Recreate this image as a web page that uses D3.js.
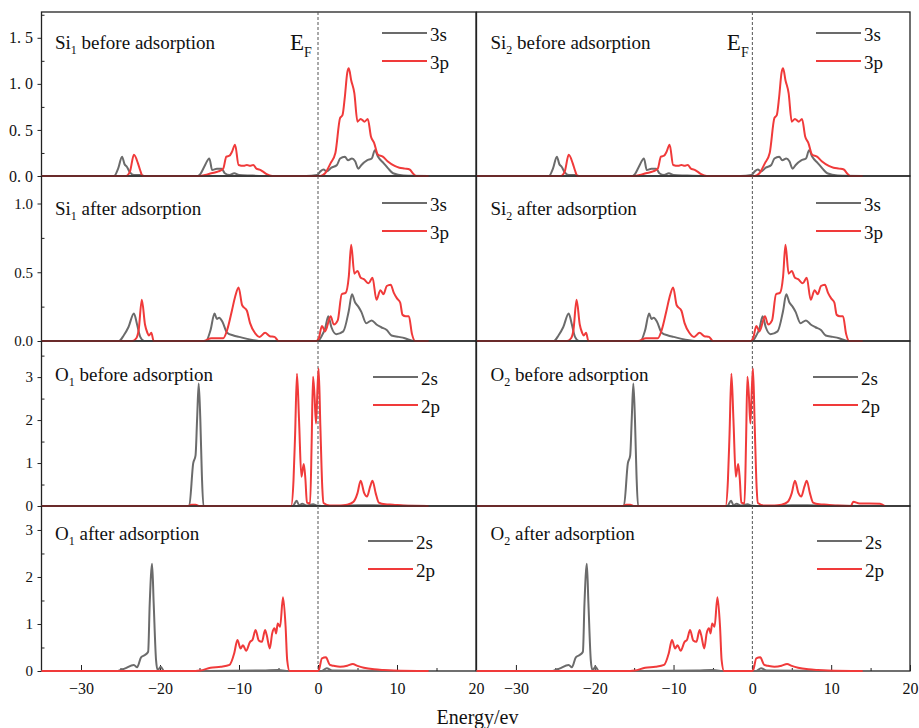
<!DOCTYPE html>
<html>
<head>
<meta charset="utf-8">
<script src="https://cdn.jsdelivr.net/npm/d3@7"></script>
<style>
    body { margin: 0; background: #fff; }
    text { font-family: "Liberation Serif", "Times New Roman", serif; fill: #111; }
</style>
</head>
<body>
<svg id="chart" width="919" height="728"></svg>
<script>
// PDOS curves, [energy (eV), states] pairs
const si1Before3s = [[-35,0],[-25.8,0],[-25.3,0.08],[-24.8,0.21],[-24.5,0.13],[-24.2,0.10],[-23.8,0.04],[-23.3,0.01],[-22.5,0.01],[-22,0],
    [-15.2,0],[-14.9,0.02],[-14.4,0.10],[-13.75,0.19],[-13.4,0.065],[-12.8,0.08],[-12.2,0.08],[-11.8,0.03],[-11.2,0.01],[-10.6,0.03],[-10,0.01],[-8.5,0.005],[-6,0],
    [-1.5,0],[-0.13,0.01],[0.3,0.05],[0.7,0.07],[1.1,0.05],[1.7,0.09],[2.4,0.12],[2.8,0.19],[3.4,0.21],[3.8,0.17],[4.3,0.19],[4.7,0.16],[5.1,0.08],[5.5,0.12],
    [6.2,0.17],[6.8,0.19],[7.2,0.28],[7.6,0.21],[8.3,0.14],[8.9,0.08],[9.5,0.03],[10.8,0.005],[14,0]];
const si1Before3p = [[-35,0],[-24.3,0],[-23.8,0.05],[-23.3,0.23],[-22.8,0.14],[-22.5,0.06],[-22.2,0],
    [-15,0],[-14.3,0.01],[-13.5,0.03],[-12.6,0.05],[-12,0.08],[-11.6,0.21],[-11.2,0.22],[-10.9,0.26],[-10.5,0.34],[-10.05,0.12],[-9.4,0.11],[-9.0,0.12],
    [-8.6,0.11],[-8.2,0.12],[-7.8,0.08],[-7.4,0.07],[-7.0,0.05],[-6.5,0.02],[-5.8,0],
    [0.3,0],[0.9,0.03],[1.6,0.14],[2.2,0.25],[2.8,0.63],[3.1,0.66],[3.4,0.86],[3.7,1.12],[3.9,1.17],[4.2,1.04],[4.6,0.90],[5.0,0.59],[5.4,0.62],[5.9,0.59],
    [6.3,0.62],[6.7,0.43],[7.1,0.36],[7.6,0.23],[8.2,0.21],[8.8,0.16],[9.7,0.11],[10.3,0.09],[11.0,0.08],[11.6,0.07],[12.0,0.03],[12.4,0],[14,0]];

const si1After3s = [[-35,0],[-25.2,0],[-24.6,0.04],[-24,0.10],[-23.3,0.20],[-22.9,0.12],[-22.5,0.03],[-22,0],
    [-14.2,0],[-13.6,0.08],[-13.1,0.20],[-12.8,0.16],[-12.5,0.17],[-12.1,0.14],[-11.5,0.06],[-10.7,0.04],[-10,0.03],[-8.5,0.01],[-7,0],
    [0,0],[0.5,0.04],[0.9,0.09],[1.3,0.18],[1.7,0.10],[2.3,0.05],[3.2,0.07],[3.9,0.22],[4.3,0.34],[4.7,0.28],[5.1,0.25],[5.5,0.21],[6.1,0.13],[6.8,0.15],
    [7.4,0.12],[8.0,0.10],[8.7,0.08],[9.3,0.04],[10.2,0.03],[11,0.02],[12.1,0],[14,0]];
const si1After3p = [[-35,0],[-23.5,0],[-23,0.02],[-22.7,0.08],[-22.3,0.30],[-21.9,0.12],[-21.6,0.06],[-21.4,0.04],[-21.1,0.06],[-20.8,0],
    [-14.5,0],[-13.5,0.02],[-12,0.02],[-11.5,0.08],[-10.9,0.22],[-10.5,0.32],[-10.05,0.39],[-9.6,0.26],[-9.0,0.22],[-8.6,0.13],[-8.0,0.06],[-7.4,0.03],
    [-6.7,0.06],[-6.1,0.035],[-5.5,0.03],[-5.0,0],
    [-0.2,0],[0.1,0.02],[0.5,0.11],[0.9,0.07],[1.6,0.18],[2.0,0.12],[2.5,0.15],[3.0,0.34],[3.5,0.35],[3.9,0.47],[4.2,0.70],[4.6,0.49],[5.0,0.51],[5.4,0.46],
    [5.8,0.45],[6.4,0.42],[6.9,0.46],[7.4,0.30],[7.9,0.37],[8.3,0.34],[8.7,0.40],[9.2,0.41],[9.6,0.35],[10.0,0.31],[10.4,0.28],[10.7,0.19],[11.1,0.18],
    [11.5,0.18],[11.9,0.05],[12.3,0],[14,0]];

const o1Before2s = [[-35,0],[-16.3,0],[-15.8,0.99],[-15.5,1.18],[-15.3,2.04],[-15.1,2.85],[-14.9,2.04],[-14.7,0.72],[-14.5,0],
    [-3.2,0],[-2.7,0.12],[-2.4,0.02],[-2.0,0.05],[-1.5,0.01],[-0.6,0.04],[-0.2,0.01],[0.5,0],[3,0],[5,0.02],[7,0.02],[9,0.01],[14,0]];
const o1Before2p = [[-35,0],[-16.5,0],[-16.0,0.03],[-15.5,0.03],[-15,0],
    [-3.4,0],[-3.1,0.6],[-2.9,1.65],[-2.66,3.08],[-2.4,2.0],[-2.1,0.68],[-1.8,0.98],[-1.6,0.64],[-1.4,0.08],[-1.0,0.06],[-0.8,1.5],[-0.63,3.01],
    [-0.45,2.6],[-0.25,1.92],[-0.05,2.8],[0.08,3.2],[0.3,1.85],[0.55,0.4],[0.7,0.07],[1.5,0.01],[2.8,0.01],[3.7,0.03],[4.5,0.10],[5.0,0.30],[5.4,0.59],
    [5.85,0.30],[6.2,0.22],[6.6,0.45],[6.9,0.59],[7.3,0.30],[7.7,0.08],[8.5,0.04],[9.5,0.03],[10.8,0.01],[14,0]];
const o2Before2p = [[-35,0],[-16.5,0],[-16.0,0.03],[-15.5,0.03],[-15,0],
    [-3.4,0],[-3.1,0.6],[-2.9,1.65],[-2.66,3.08],[-2.4,2.0],[-2.1,0.68],[-1.8,0.98],[-1.6,0.64],[-1.4,0.08],[-1.0,0.06],[-0.8,1.5],[-0.63,3.01],
    [-0.45,2.6],[-0.25,1.92],[-0.05,2.8],[0.08,3.2],[0.3,1.85],[0.55,0.4],[0.7,0.07],[1.5,0.01],[2.8,0.01],[3.7,0.03],[4.5,0.10],[5.0,0.30],[5.4,0.59],
    [5.85,0.30],[6.2,0.22],[6.6,0.45],[6.9,0.59],[7.3,0.30],[7.7,0.08],[8.5,0.04],[9.5,0.03],[10.8,0.01],[12.5,0],[12.8,0.10],[13.6,0.06],[14.8,0.06],
    [16.2,0.05],[16.8,0]];

const o1After2s = [[-35,0],[-25.5,0],[-25.0,0.02],[-24.5,0.05],[-23.3,0.13],[-22.9,0.08],[-22.4,0.29],[-21.9,0.34],[-21.5,0.41],[-21.3,1.44],[-21.0,2.28],
    [-20.8,1.44],[-20.5,0.23],[-20.3,0.02],[-19.9,0.09],[-19.5,0],[-14,0],[-7,0.01],[-5,0.02],[-4,0],[0.5,0],[1.1,0.06],[1.8,0.01],[14,0]];
const o1After2p = [[-35,0],[-15.5,0],[-14.9,0.01],[-13.6,0.07],[-12.3,0.09],[-11.2,0.13],[-10.6,0.38],[-10.2,0.66],[-9.8,0.48],[-9.5,0.55],[-9.1,0.43],
    [-8.6,0.62],[-8.3,0.66],[-7.9,0.87],[-7.5,0.65],[-7.1,0.62],[-6.7,0.87],[-6.5,0.77],[-6.1,0.48],[-5.8,0.80],[-5.5,0.91],[-5.3,0.80],[-5.1,1.01],
    [-4.8,0.94],[-4.43,1.57],[-4.1,0.94],[-3.9,0.23],[-3.6,0],
    [-0.1,0],[0.1,0.02],[0.5,0.27],[1.0,0.29],[1.5,0.13],[2.0,0.11],[2.8,0.09],[3.7,0.11],[4.4,0.15],[5.0,0.11],[5.8,0.07],[7.1,0.035],[8.3,0.02],
    [9.6,0.01],[14,0]];

// Si2 and O2 curves look the same as Si1 / O1 in the figure
const si2Before3s = si1Before3s, si2Before3p = si1Before3p;
const si2After3s = si1After3s, si2After3p = si1After3p;
const o2Before2s = o1Before2s;
const o2After2s = o1After2s, o2After2p = o1After2p;

const xTicks = [-30, -20, -10, 0, 10, 20];
const xMinorTicks = [-25, -15, -5, 5, 15];

const rows = [
    { atoms: ['Si', 'Si'], state: ' before adsorption', orbitals: ['3s', '3p'],
      series: [[si1Before3s, si1Before3p], [si2Before3s, si2Before3p]],
      yMax: 1.78, yTicks: [0, 0.5, 1, 1.5], yMinor: [0.25, 0.75, 1.25, 1.75], fmt: d => d.toFixed(1).replace('.', '. ') },
    { atoms: ['Si', 'Si'], state: ' after adsorption', orbitals: ['3s', '3p'],
      series: [[si1After3s, si1After3p], [si2After3s, si2After3p]],
      yMax: 1.2, yTicks: [0, 0.5, 1], yMinor: [0.25, 0.75], fmt: d => d.toFixed(1) },
    { atoms: ['O', 'O'], state: ' before adsorption', orbitals: ['2s', '2p'],
      series: [[o1Before2s, o1Before2p], [o2Before2s, o2Before2p]],
      yMax: 3.84, yTicks: [0, 1, 2, 3], yMinor: [0.5, 1.5, 2.5, 3.5], fmt: d3.format('d') },
    { atoms: ['O', 'O'], state: ' after adsorption', orbitals: ['2s', '2p'],
      series: [[o1After2s, o1After2p], [o2After2s, o2After2p]],
      yMax: 3.51, yTicks: [0, 1, 2, 3], yMinor: [0.5, 1.5, 2.5], fmt: d3.format('d') }
];

const colors = ['#6b6b6b', '#f03a3a'];

// layout
const cols = [[41.5, 476], [476.5, 910]];
const rowY = [[12, 176], [176, 341], [341, 506], [506, 671]];
const titleY = [49, 215, 381, 540];
const legendY = [33, 203, 377, 541];
const legendDx = [[340.5, 339.5], [340.5, 339.5], [331.5, 336.5], [326.5, 340.5]];

const serif = '"Liberation Serif", "Times New Roman", serif';
const svg = d3.select('#chart');

function styleAxis(axisG, size) {
    axisG.attr('font-family', serif).attr('font-size', size);
    axisG.select('.domain').remove();
    axisG.selectAll('.tick line').attr('stroke', '#222');
    axisG.selectAll('text').style('font-family', serif).style('font-size', size + 'px').attr('fill', '#111');
}

rows.forEach((row, r) => {
    cols.forEach((col, c) => {
        const x = d3.scaleLinear().domain([-35, 20]).range(col);
        const y = d3.scaleLinear().domain([0, row.yMax]).range([rowY[r][1], rowY[r][0]]);
        const g = svg.append('g');

        // frame
        g.append('rect')
            .attr('x', col[0]).attr('y', rowY[r][0])
            .attr('width', col[1] - col[0]).attr('height', rowY[r][1] - rowY[r][0])
            .attr('fill', 'none').attr('stroke', '#222').attr('stroke-width', 1.3);

        // Fermi level
        g.append('line')
            .attr('x1', x(0)).attr('x2', x(0))
            .attr('y1', rowY[r][0]).attr('y2', rowY[r][1])
            .attr('stroke', '#555').attr('stroke-width', 1)
            .attr('stroke-dasharray', '3,2');

        if (c === 0) {
            const yAxis = g.append('g')
                .attr('transform', `translate(${col[0]},0)`)
                .call(d3.axisLeft(y).tickValues(row.yTicks).tickFormat(row.fmt).tickSize(4).tickPadding(4.5));
            styleAxis(yAxis, r === 0 ? 16 : 15);
            const yMinorAxis = g.append('g')
                .attr('transform', `translate(${col[0]},0)`)
                .call(d3.axisLeft(y).tickValues(row.yMinor).tickFormat('').tickSize(-3));
            styleAxis(yMinorAxis, 15);
        }

        if (r === rows.length - 1) {
            const xAxis = g.append('g')
                .attr('transform', `translate(0,${rowY[r][1]})`)
                .call(d3.axisBottom(x).tickValues(xTicks).tickSize(-6).tickPadding(12));
            styleAxis(xAxis, 16);
            const xMinorAxis = g.append('g')
                .attr('transform', `translate(0,${rowY[r][1]})`)
                .call(d3.axisBottom(x).tickValues(xMinorTicks).tickFormat('').tickSize(-3));
            styleAxis(xMinorAxis, 16);
        }

        // curves
        const line = d3.line()
            .x(d => x(d[0]))
            .y(d => y(d[1]))
            .curve(d3.curveMonotoneX);

        row.series[c].forEach((data, i) => {
            g.append('path')
                .datum(data)
                .attr('d', line)
                .attr('fill', 'none')
                .attr('stroke', colors[i])
                .attr('stroke-width', 2)
                .attr('stroke-linejoin', 'round');
        });

        // title
        const title = g.append('text')
            .attr('x', col[0] + (c === 0 ? 13.5 : 14))
            .attr('y', titleY[r])
            .style('font-size', '19px');
        title.append('tspan').text(row.atoms[c]);
        title.append('tspan').text(String(c + 1))
            .attr('dy', 5).style('font-size', '12px');
        title.append('tspan').text(row.state).attr('dy', -5);

        // E_F label, top row only
        if (r === 0) {
            const ef = g.append('text')
                .attr('x', x(0) - (c === 0 ? 28 : 25.5))
                .attr('y', 50)
                .style('font-size', '23px');
            ef.append('tspan').text('E');
            ef.append('tspan').text('F').attr('dy', 7).style('font-size', '14px');
        }

        // legend
        row.orbitals.forEach((name, i) => {
            const ly = legendY[r] + i * 28;
            const lx = col[0] + legendDx[r][c];
            g.append('line')
                .attr('x1', lx).attr('x2', lx + 45)
                .attr('y1', ly).attr('y2', ly)
                .attr('stroke', colors[i]).attr('stroke-width', 2);
            g.append('text')
                .attr('x', lx + 48)
                .attr('y', ly + 7.5)
                .style('font-size', '19px')
                .text(name);
        });
    });
});

svg.append('text')
    .attr('x', 477.5)
    .attr('y', 724)
    .attr('text-anchor', 'middle')
    .style('font-size', '20px')
    .text('Energy/ev');
</script>
</body>
</html>
